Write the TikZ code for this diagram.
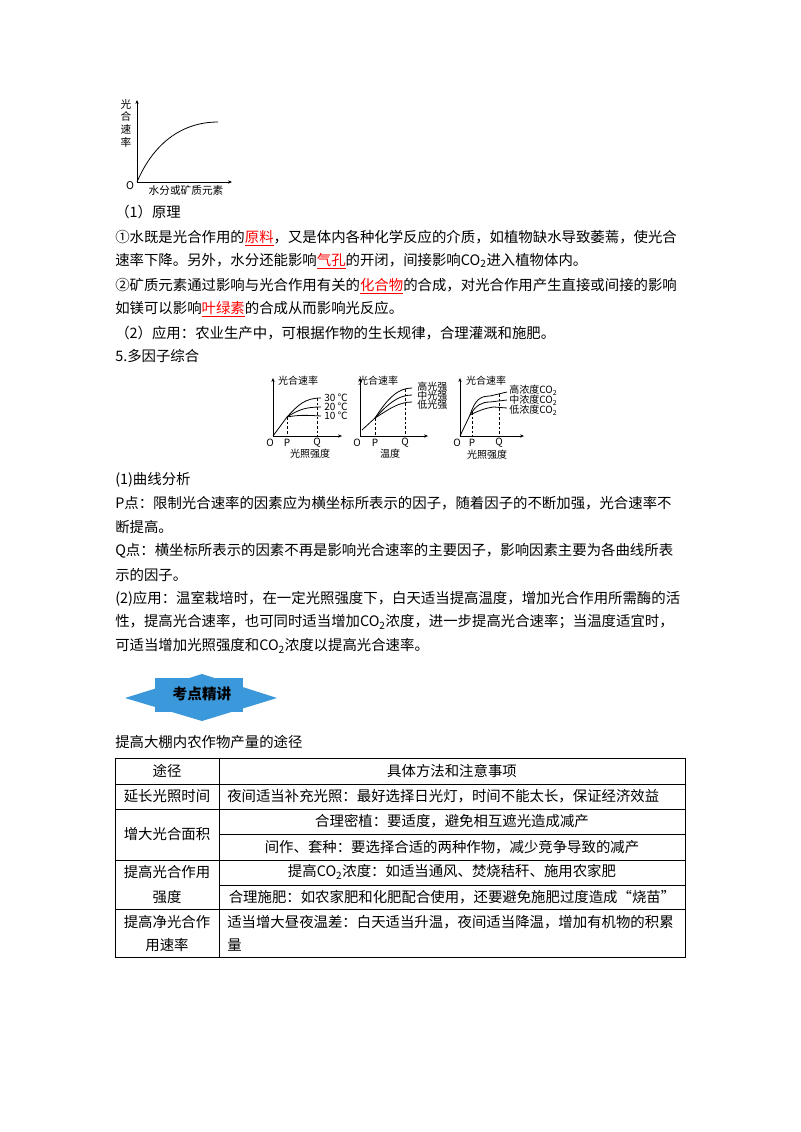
\documentclass[tikz,border=0pt]{standalone}
\usepackage{fontspec}
\setmainfont{Noto Sans CJK SC}
\usetikzlibrary{arrows.meta}
\begin{document}
\begin{tikzpicture}[x=0.75pt,y=-0.75pt,
  txt/.style={anchor=west,inner sep=0,font=\fontsize{10.8}{12}\selectfont},
  ctx/.style={inner sep=0,font=\fontsize{10.8}{12}\selectfont},
  sm/.style={inner sep=0,font=\fontsize{7.5}{8}\selectfont},
  ax/.style={line width=0.6pt,-{Stealth[length=3pt,width=2.5pt]}},
  cv/.style={line width=0.6pt},
  dsh/.style={line width=0.5pt,dashed,dash pattern=on 2pt off 1.5pt}]
\useasboundingbox (0,0) rectangle (800,1132);
\newcommand{\rd}[1]{\textcolor{red}{\underline{#1}}}
% top graph
\coordinate (o0) at (137,182);
\draw[ax] (o0) -- (137,100);
\draw[ax] (o0) -- (232,182);
\draw[cv] (o0) .. controls (155,140) and (185,122) .. (218,122);
\node[sm,align=center,font=\fontsize{8}{9.5}\selectfont] (g0y) at (126,123) {光\\合\\速\\率};
\node[sm,font=\fontsize{8}{9}\selectfont\itshape] (g0o) at (130,186) {O};
\node[sm,font=\fontsize{8}{9}\selectfont] (g0x) at (186,190) {水分或矿质元素};
% body
\node[txt] (l1) at (115,212) {（1）原理};
\node[txt] (l2) at (115,238) {①水既是光合作用的\rd{原料}，又是体内各种化学反应的介质，如植物缺水导致萎蔫，使光合};
\node[txt] (l3) at (115,261) {速率下降。另外，水分还能影响\rd{气孔}的开闭，间接影响CO\textsubscript{2}进入植物体内。};
\node[txt] (l4) at (115,286) {②矿质元素通过影响与光合作用有关的\rd{化合物}的合成，对光合作用产生直接或间接的影响};
\node[txt] (l5) at (115,309) {如镁可以影响\rd{叶绿素}的合成从而影响光反应。};
\node[txt] (l6) at (115,333) {（2）应用：农业生产中，可根据作物的生长规律，合理灌溉和施肥。};
\node[txt] (l7) at (115,356) {5.多因子综合};
% graph 1
\coordinate (o1) at (273,436);
\draw[ax] (o1) -- (273,378);
\draw[ax] (o1) -- (342,436);
\draw[cv] (o1) -- (287,417) .. controls (298,405) and (305,398) .. (321,398);
\draw[cv] (287,417) .. controls (298,410) and (305,407) .. (321,407);
\draw[cv] (287,417) .. controls (298,415) and (305,415) .. (321,416);
\draw[dsh] (287,417) -- (287,436);
\draw[dsh] (317,398) -- (317,436);
\node[sm] (t1) at (298,381) {光合速率};
\node[sm,anchor=west] (a1) at (324,398) {30 ℃};
\node[sm,anchor=west] (b1) at (324,407) {20 ℃};
\node[sm,anchor=west] (c1) at (324,416) {10 ℃};
\node[sm,font=\fontsize{7.5}{8}\selectfont\itshape] (o1l) at (270,443) {O};
\node[sm] (p1) at (287,443) {P};
\node[sm] (q1) at (317,443) {Q};
\node[sm] (x1) at (310,454) {光照强度};
% graph 2
\coordinate (o2) at (360,436);
\draw[ax] (o2) -- (360,378);
\draw[ax] (o2) -- (428,436);
\draw[cv] (362,430) -- (375,418) .. controls (388,398) and (398,388) .. (412,388);
\draw[cv] (375,418) .. controls (388,404) and (398,395) .. (412,395);
\draw[cv] (375,418) .. controls (388,410) and (398,402) .. (412,402);
\draw[dsh] (375,418) -- (375,436);
\draw[dsh] (405,389) -- (405,436);
\node[sm] (t2) at (378,381) {光合速率};
\node[sm,anchor=west] (a2) at (417,387) {高光强};
\node[sm,anchor=west] (b2) at (417,396) {中光强};
\node[sm,anchor=west] (c2) at (417,405) {低光强};
\node[sm,font=\fontsize{7.5}{8}\selectfont\itshape] (o2l) at (357,443) {O};
\node[sm] (p2) at (375,443) {P};
\node[sm] (q2) at (405,443) {Q};
\node[sm] (x2) at (390,454) {温度};
% graph 3
\coordinate (o3) at (460,436);
\draw[ax] (o3) -- (460,378);
\draw[ax] (o3) -- (524,436);
\draw[cv] (o3) -- (470,415) .. controls (475,400) and (480,396) .. (490,396) -- (507,392);
\draw[cv] (470,415) .. controls (476,405) and (482,402) .. (490,402) -- (507,400);
\draw[cv] (470,415) .. controls (478,411) and (485,408) .. (494,407) -- (507,408);
\draw[dsh] (472,412) -- (472,436);
\draw[dsh] (499,394) -- (499,436);
\node[sm] (t3) at (486,381) {光合速率};
\node[sm,anchor=west] (a3) at (509,390) {高浓度CO\textsubscript{2}};
\node[sm,anchor=west] (b3) at (509,400) {中浓度CO\textsubscript{2}};
\node[sm,anchor=west] (c3) at (509,410) {低浓度CO\textsubscript{2}};
\node[sm,font=\fontsize{7.5}{8}\selectfont\itshape] (o3l) at (457,443) {O};
\node[sm] (p3) at (472,443) {P};
\node[sm] (q3) at (499,443) {Q};
\node[sm] (x3) at (487,455) {光照强度};
% body 2
\node[txt] (m1) at (115,480) {(1)曲线分析};
\node[txt] (m2) at (115,503) {P点：限制光合速率的因素应为横坐标所表示的因子，随着因子的不断加强，光合速率不};
\node[txt] (m3) at (115,527) {断提高。};
\node[txt] (m4) at (115,551) {Q点：横坐标所表示的因素不再是影响光合速率的主要因子，影响因素主要为各曲线所表};
\node[txt] (m5) at (115,575) {示的因子。};
\node[txt] (m6) at (115,599) {(2)应用：温室栽培时，在一定光照强度下，白天适当提高温度，增加光合作用所需酶的活};
\node[txt] (m7) at (115,622) {性，提高光合速率，也可同时适当增加CO\textsubscript{2}浓度，进一步提高光合速率；当温度适宜时，};
\node[txt] (m8) at (115,646) {可适当增加光照强度和CO\textsubscript{2}浓度以提高光合速率。};
% badge
\fill[cyan!70!blue!80] (125,698) -- (202,674) -- (277,698) -- (202,721) -- cycle;
\fill[cyan!70!blue!80] (155,678) rectangle (243,712);
\node[inner sep=0,font=\fontsize{11}{12}\selectfont\bfseries] (bd) at (202,694) {考点精讲};
\node[txt] (tt) at (115,742) {提高大棚内农作物产量的途径};
% table
\draw[line width=0.6pt] (115,758) rectangle (685,957);
\draw[line width=0.6pt] (219,758) -- (219,957);
\draw[line width=0.5pt] (115,784) -- (685,784) (115,809) -- (685,809) (115,860) -- (685,860) (115,909) -- (685,909)
  (219,834) -- (685,834) (219,885) -- (685,885);
\node[ctx] (h1) at (167,771) {途径};
\node[ctx] (h2) at (452,771) {具体方法和注意事项};
\node[ctx] (r1a) at (167,796) {延长光照时间};
\node[txt] (r1b) at (227,796) {夜间适当补充光照：最好选择日光灯，时间不能太长，保证经济效益};
\node[ctx] (r2a) at (167,834) {增大光合面积};
\node[ctx] (r2b) at (452,821) {合理密植：要适度，避免相互遮光造成减产};
\node[ctx] (r2c) at (452,847) {间作、套种：要选择合适的两种作物，减少竞争导致的减产};
\node[ctx] (r3a) at (167,872) {提高光合作用};
\node[ctx] (r3a2) at (167,897) {强度};
\node[ctx] (r3b) at (452,872) {提高CO\textsubscript{2}浓度：如适当通风、焚烧秸秆、施用农家肥};
\node[ctx] (r3c) at (452,897) {合理施肥：如农家肥和化肥配合使用，还要避免施肥过度造成“烧苗”};
\node[ctx] (r4a) at (167,922) {提高净光合作};
\node[ctx] (r4a2) at (167,945) {用速率};
\node[txt] (r4b) at (227,922) {适当增大昼夜温差：白天适当升温，夜间适当降温，增加有机物的积累};
\node[txt] (r4b2) at (227,945) {量};
\end{tikzpicture}
\end{document}
